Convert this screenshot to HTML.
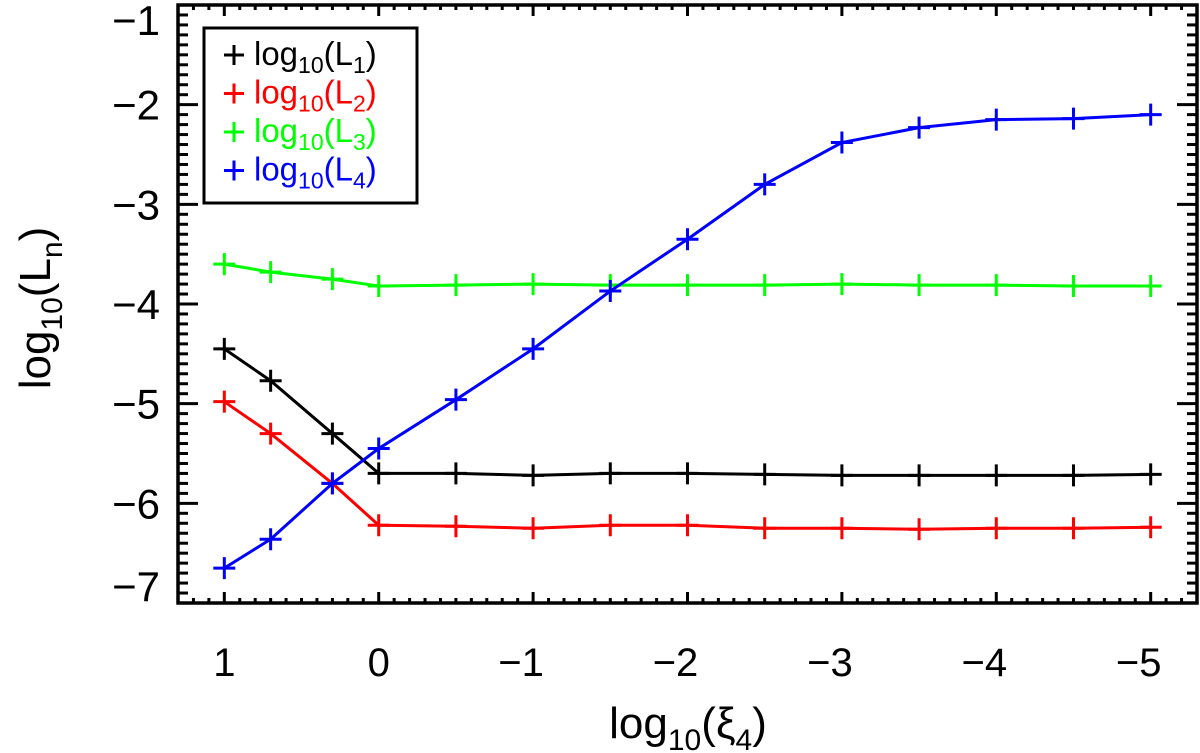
<!DOCTYPE html>
<html><head><meta charset="utf-8"><style>
body{margin:0;background:#fff}
svg{display:block;font-family:"Liberation Sans",sans-serif}
</style></head><body>
<svg id="chart" width="1200" height="753" viewBox="0 0 1200 753">
<g id="ticks"></g>
<g id="series"></g>
<rect x="178" y="5" width="1019" height="598" fill="none" stroke="#000" stroke-width="3.5"/>
<text x="50" y="308" font-size="44" text-anchor="middle" transform="rotate(-90 50 308)">log<tspan font-size="30" dy="12">10</tspan><tspan dy="-12">(L</tspan><tspan font-size="30" dy="12">n</tspan><tspan dy="-12">)</tspan></text>
<text x="688" y="738" font-size="44" text-anchor="middle">log<tspan font-size="30" dy="12">10</tspan><tspan dy="-12">(ξ</tspan><tspan font-size="30" dy="12">4</tspan><tspan dy="-12">)</tspan></text>
<g>
<rect x="204" y="28" width="213" height="175" fill="#fff" stroke="#000" stroke-width="3"/>
<g id="legend-items"></g>
</g>
</svg>
<script>
const xValues=[1,0.7,0.3,0,-0.5,-1,-1.5,-2,-2.5,-3,-3.5,-4,-4.5,-5];
const L1=[-4.45,-4.77,-5.3,-5.7,-5.7,-5.72,-5.7,-5.7,-5.71,-5.72,-5.72,-5.72,-5.72,-5.71];
const L2=[-4.98,-5.3,-5.8,-6.22,-6.23,-6.25,-6.22,-6.22,-6.25,-6.25,-6.26,-6.25,-6.25,-6.24];
const L3=[-3.6,-3.68,-3.75,-3.82,-3.81,-3.8,-3.81,-3.81,-3.81,-3.8,-3.81,-3.81,-3.82,-3.82];
const L4=[-6.65,-6.36,-5.8,-5.45,-4.96,-4.45,-3.87,-3.35,-2.8,-2.38,-2.23,-2.15,-2.14,-2.1];
const xTicks=[1,0,-1,-2,-3,-4,-5];
const yTicks=[-1,-2,-3,-4,-5,-6,-7];
const seriesNames=["L1","L2","L3","L4"];
const seriesColors=["#000","#f00","#0f0","#00f"];
const NS="http://www.w3.org/2000/svg";
const X0=178,X1=1197,Y0=5,Y1=603,xmin=1.3,xmax=-5.3,ymin=-7,ymax=-1;
function sx(v){return X0+(v-xmin)/(xmax-xmin)*(X1-X0);}
function sy(v){return Y1-(v-ymin)/(ymax-ymin)*(Y1-Y0);}
function mk(t,a,p){const e=document.createElementNS(NS,t);for(const k in a)e.setAttribute(k,a[k]);p.appendChild(e);return e;}
const tg=document.getElementById('ticks');
for(let i=-53;i<=13;i++){const v=i/10,x=sx(v);const major=i%10===0;const len=major?11:5;
 const l1=mk('line',{x1:x,x2:x,y1:Y1,y2:Y1-len,stroke:'#000','stroke-width':3},tg);
 
 const l2=mk('line',{x1:x,x2:x,y1:Y0,y2:Y0+len,stroke:'#000','stroke-width':3},tg);
 }
xTicks.forEach(v=>{const t=mk('text',{x:sx(v)+(v<0?-12:0),y:676,'font-size':40,'text-anchor':'middle'},tg);t.textContent=v<0?'−'+(-v):String(v);
 });
for(let i=-70;i<=-10;i++){const v=i/10,y=sy(v);const major=i%10===0;const len=major?20:10;
 const l1=mk('line',{x1:X0,x2:X0+len,y1:y,y2:y,stroke:'#000','stroke-width':3},tg);
 
 const l2=mk('line',{x1:X1,x2:X1-len,y1:y,y2:y,stroke:'#000','stroke-width':3},tg);
 }
yTicks.forEach(v=>{let off=15;if(v===-1)off=30;if(v===-7)off=-2;
 const t=mk('text',{x:160,y:sy(v)+off,'font-size':42,'text-anchor':'end'},tg);t.textContent='−'+(-v);
 });
const sg=document.getElementById('series');
[L1,L2,L3,L4].forEach((arr,k)=>{const c=seriesColors[k];
 const pl=mk('polyline',{points:arr.map((v,i)=>sx(xValues[i])+','+sy(v)).join(' '),fill:'none',stroke:c,'stroke-width':3},sg);
 
 arr.forEach((v,i)=>{const x=sx(xValues[i]),y=sy(v);
  const p=mk('path',{d:`M${x-11},${y}H${x+11}M${x},${y-11}V${y+11}`,stroke:c,'stroke-width':3},sg);
  });});
const lg=document.getElementById('legend-items');
seriesNames.forEach((n,k)=>{const y=65+k*38.5,c=seriesColors[k];
 const g=mk('g',{},lg);
 mk('path',{d:`M${224},${y-10}H${244}M${234},${y-20}V${y}`,stroke:c,'stroke-width':3},g);
 const t=mk('text',{x:254,y:y,'font-size':33,fill:c},g);
 t.innerHTML='log<tspan font-size="23" dy="8">10</tspan><tspan dy="-8">(L</tspan><tspan font-size="23" dy="8">'+(k+1)+'</tspan><tspan dy="-8">)</tspan>';});
</script>
</body></html>
